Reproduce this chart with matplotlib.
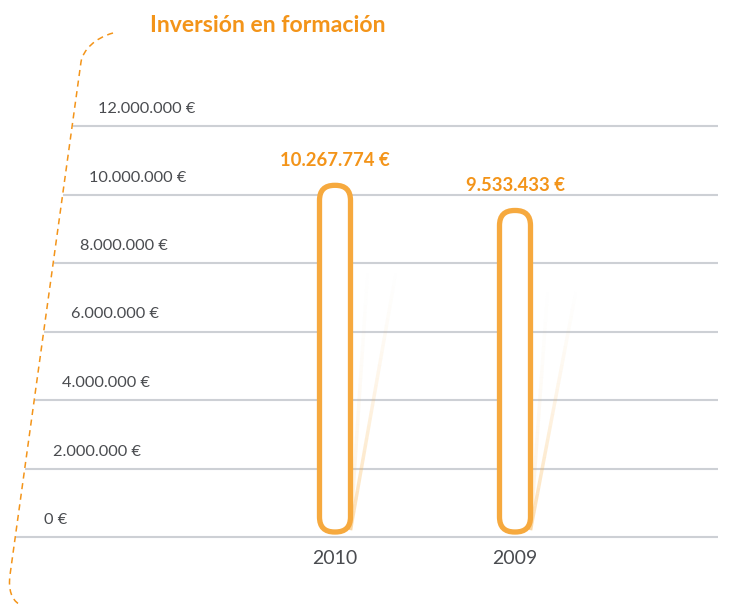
import numpy as np
import matplotlib
matplotlib.use("Agg")
import matplotlib.pyplot as plt
from matplotlib.patches import FancyBboxPatch
from matplotlib.path import Path
from matplotlib.patches import PathPatch
from matplotlib.collections import LineCollection

# data
years = ["2010", "2009"]
values = [10267774, 9533433]
value_labels = ["10.267.774 €", "9.533.433 €"]
ticks = [0, 2000000, 4000000, 6000000, 8000000, 10000000, 12000000]
tick_labels = ["0 €", "2.000.000 €", "4.000.000 €", "6.000.000 €",
               "8.000.000 €", "10.000.000 €", "12.000.000 €"]

ORANGE = "#f39419"
BAR = "#f6a93e"
GRAY = "#4a4c50"
GRID = "#cdd0d5"

plt.rcParams['font.family'] = ['Lato', 'DejaVu Sans']

W, H = 733, 604
fig = plt.figure(figsize=(W / 100, H / 100), dpi=100)

# axes: pixel 16..718 horizontally, baseline at 537, 12M at 126
ax_l, ax_r, ax_b, ax_t = 16, 718, 537, 126
ax = fig.add_axes([ax_l / W, (H - ax_b) / H, (ax_r - ax_l) / W, (ax_b - ax_t) / H])
px_x = 180.0  # px per category step
x0 = 335.0    # px of first bar centre
ax.set_xlim(-(x0 - ax_l) / px_x, (ax_r - x0) / px_x)
ax.set_ylim(0, 12000000)
ax.axis("off")

xlim = ax.get_xlim()
px_y = (ax_b - ax_t) / 12000000.0

# slanted gridlines + tick labels
for k, (t, lab) in enumerate(zip(ticks, tick_labels)):
    start = xlim[0] + 9.5 * k / px_x
    ax.plot([start, xlim[1]], [t, t], color=GRID, lw=1.5, solid_capstyle="butt",
            clip_on=False, zorder=1)
    ax.text(xlim[0] + (28 + 9 * k) / px_x, t + 17 / px_y, lab, ha="left", va="center",
            fontsize=11.8, color=GRAY, clip_on=False)

# bars
xs = np.arange(len(years))
bw = 31 / px_x
aspect = (1 / px_y) / (1 / px_x)
for x, v, lab, yr in zip(xs, values, value_labels, years):
    bottom = 5 / px_y
    box = FancyBboxPatch((x - bw / 2, bottom), bw, v - bottom,
                         boxstyle="round,pad=0,rounding_size=%f" % (15 / px_x),
                         mutation_aspect=aspect, fc="white", ec=BAR, lw=3.8,
                         zorder=4, clip_on=False)
    ax.add_patch(box)
    ax.text(x, v + 25 / px_y, lab, ha="center", va="center", fontsize=13.3,
            fontweight="bold", color=ORANGE, clip_on=False)
    ax.text(x, -21 / px_y, yr, ha="center", va="center", fontsize=14,
            color=GRAY, clip_on=False)

    # faint reflection streaks
    for dx, a0 in [(62 / px_x, 0.45), (33 / px_x, 0.2)]:
        n = 40
        ts = np.linspace(0, 1, n + 1)
        xx = x + bw / 2 + ts * (dx - bw / 2)
        yy = 0.2e6 + ts * (0.77 * v - 0.2e6)
        segs = [[(xx[i], yy[i]), (xx[i + 1], yy[i + 1])] for i in range(n)]
        cols = [(0.98, 0.72, 0.35, a0 * (1 - ts[i]) ** 1.5) for i in range(n)]
        ax.add_collection(LineCollection(segs, colors=cols, linewidths=2.5, zorder=2))

# overlay for dashed bracket and title
ov = fig.add_axes([0, 0, 1, 1], zorder=-1)
ov.set_xlim(0, W)
ov.set_ylim(H, 0)
ov.axis("off")
verts = [(113, 33), (95, 38), (83, 50), (81, 62),
         (10, 575),
         (8, 590), (12, 600), (19, 604)]
codes = [Path.MOVETO, Path.CURVE4, Path.CURVE4, Path.CURVE4,
         Path.LINETO,
         Path.CURVE4, Path.CURVE4, Path.CURVE4]
ov.add_patch(PathPatch(Path(verts, codes), fc="none", ec=ORANGE, lw=1.1,
                       ls=(0, (4, 3))))

fig.text(150 / W, 1 - 25 / H, "Inversión en formación", ha="left", va="center",
         fontsize=16.6, fontweight="bold", color=ORANGE)

fig.savefig("out.png", dpi=100)
